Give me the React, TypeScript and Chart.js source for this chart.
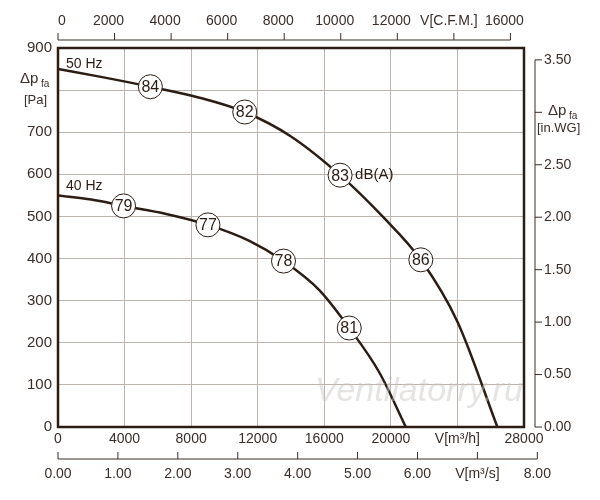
import React, { useEffect, useRef } from "react";
import { Chart, registerables } from "chart.js";
Chart.register(...registerables);

const hz50X = [0, 2500, 5550, 8500, 11220, 14000, 16950, 19500, 21800, 24000, 26400];
const hz50Y = [850, 832, 808, 782, 748, 690, 598, 500, 397, 250, 0];
const hz40X = [0, 2000, 3940, 6500, 9010, 11500, 13550, 15700, 17500, 19300, 20900];
const hz40Y = [550, 540, 525, 506, 480, 442, 394, 325, 235, 130, 0];
const labels50 = [{ x: 5550, y: 808, t: "84" }, { x: 11220, y: 748, t: "82" }, { x: 16950, y: 598, t: "83" }, { x: 21800, y: 397, t: "86" }];
const labels40 = [{ x: 3940, y: 525, t: "79" }, { x: 9010, y: 480, t: "77" }, { x: 13550, y: 394, t: "78" }, { x: 17500, y: 235, t: "81" }];
const cfmTicks = [0, 2000, 4000, 6000, 8000, 10000, 12000, 14000, 16000];
const m3sTicks = [0, 1, 2, 3, 4, 5, 6, 7, 8];
const inwgTicks = [0, 0.5, 1, 1.5, 2, 2.5, 3, 3.5];

const TXT = "#3a2e28";
const GRID = "#bdb5ad";
const LINE = "#2b1d14";
const FONT = "Arial, 'Liberation Sans', sans-serif";

const deco = {
  id: "deco",
  afterDatasetsDraw(c: any) {
    const ctx = c.ctx;
    const xs = c.scales.x, ys = c.scales.y;
    const a = c.chartArea;
    ctx.save();
    ctx.font = `italic 34px ${FONT}`;
    ctx.fillStyle = "rgba(200,195,190,0.45)";
    ctx.textAlign = "left"; ctx.textBaseline = "middle";
    ctx.fillText("Ventilatorry.ru", 315, 392);
    ctx.strokeStyle = LINE; ctx.lineWidth = 2.5;
    ctx.strokeRect(a.left, a.top, a.right - a.left, a.bottom - a.top);
    ctx.lineWidth = 1; ctx.strokeStyle = TXT; ctx.fillStyle = TXT;
    ctx.font = `14px ${FONT}`;
    const ty = 40;
    const px = (m3h: number) => xs.getPixelForValue(m3h);
    ctx.beginPath(); ctx.moveTo(a.left, ty); ctx.lineTo(px(16000 * 1.699), ty); ctx.stroke();
    ctx.textAlign = "center"; ctx.textBaseline = "bottom";
    cfmTicks.forEach((v) => {
      const p = px(v * 1.699);
      ctx.beginPath(); ctx.moveTo(p, ty); ctx.lineTo(p, ty - 7); ctx.stroke();
      if (v === 14000) return;
      ctx.fillText(String(v), v === 0 ? p + 4 : p - 6, ty - 12);
    });
    ctx.fillText("V[C.F.M.]", px(14000 * 1.699) - 5, ty - 12);
    const by = 459;
    ctx.beginPath(); ctx.moveTo(a.left, by); ctx.lineTo(px(8 * 3600), by); ctx.stroke();
    ctx.textBaseline = "top";
    m3sTicks.forEach((v) => {
      const p = px(v * 3600);
      ctx.beginPath(); ctx.moveTo(p, by); ctx.lineTo(p, by - 7); ctx.stroke();
      ctx.fillText(v === 7 ? "V[m³/s]" : v.toFixed(2), p, by + 8);
    });
    const rx = 535;
    const py = (w: number) => ys.getPixelForValue(w * 249.09);
    ctx.beginPath(); ctx.moveTo(rx, a.bottom); ctx.lineTo(rx, py(3.5)); ctx.stroke();
    ctx.textAlign = "left"; ctx.textBaseline = "middle";
    inwgTicks.forEach((v) => {
      const p = py(v);
      ctx.beginPath(); ctx.moveTo(rx, p); ctx.lineTo(rx + 7, p); ctx.stroke();
      if (v === 3) return;
      ctx.fillText(v.toFixed(2), rx + 9, p);
    });
    ctx.font = `15px ${FONT}`;
    ctx.fillText("Δp", 20, 79); ctx.font = `10px ${FONT}`; ctx.fillText("fa", 41, 84);
    ctx.font = `13px ${FONT}`; ctx.fillText("[Pa]", 24, 100);
    ctx.font = `15px ${FONT}`;
    ctx.fillText("Δp", 548, 111); ctx.font = `10px ${FONT}`; ctx.fillText("fa", 569, 116);
    ctx.font = `13px ${FONT}`; ctx.fillText("[in.WG]", 537, 128);
    ctx.font = `14px ${FONT}`; ctx.fillStyle = LINE;
    ctx.fillText("50 Hz", 66, 64);
    ctx.fillText("40 Hz", 66, 186);
    const circ = (l: any) => {
      const x = xs.getPixelForValue(l.x), y = ys.getPixelForValue(l.y);
      ctx.beginPath(); ctx.arc(x, y, 12, 0, Math.PI * 2);
      ctx.fillStyle = "#fff"; ctx.fill();
      ctx.strokeStyle = LINE; ctx.lineWidth = 1; ctx.stroke();
      ctx.fillStyle = LINE; ctx.font = `16px ${FONT}`; ctx.textAlign = "center"; ctx.textBaseline = "middle";
      ctx.fillText(l.t, x, y + 1);
    };
    labels50.forEach(circ); labels40.forEach(circ);
    const l83 = labels50[2];
    ctx.textAlign = "left"; ctx.font = `15px ${FONT}`;
    ctx.fillText("dB(A)", xs.getPixelForValue(l83.x) + 15, ys.getPixelForValue(l83.y));
    ctx.restore();
  },
};

export default function App() {
  const ref = useRef<HTMLCanvasElement>(null);
  useEffect(() => {
    const chart = new Chart(ref.current!, {
      type: "scatter",
      data: {
        datasets: [
          { data: hz50X.map((x, i) => ({ x, y: hz50Y[i] })), showLine: true, borderColor: LINE, borderWidth: 2.5, pointRadius: 0, cubicInterpolationMode: "monotone" } as any,
          { data: hz40X.map((x, i) => ({ x, y: hz40Y[i] })), showLine: true, borderColor: LINE, borderWidth: 2.5, pointRadius: 0, cubicInterpolationMode: "monotone" } as any,
        ],
      },
      options: {
        animation: false, responsive: false,
        layout: { padding: { top: 48, right: 76, left: 0, bottom: 0 } },
        plugins: { legend: { display: false }, tooltip: { enabled: false } },
        scales: {
          x: {
            type: "linear", min: 0, max: 28000,
            afterFit: (s: any) => { s.height = 73; },
            border: { display: false },
            grid: { color: GRID, drawTicks: false },
            ticks: { stepSize: 4000, padding: 4, color: TXT, font: { size: 14, family: FONT }, maxRotation: 0,
              callback: (v: any) => (v === 24000 ? "V[m³/h]" : String(v)) },
          },
          y: {
            min: 0, max: 900,
            afterFit: (s: any) => { s.width = 58; },
            border: { display: false },
            grid: { color: GRID, drawTicks: false },
            ticks: { stepSize: 100, padding: 6, color: TXT, font: { size: 15, family: FONT },
              callback: (v: any) => (v === 800 ? "" : String(v)) },
          },
        },
      },
      plugins: [deco],
    });
    return () => chart.destroy();
  }, []);
  return (
    <div style={{ position: "fixed", left: 0, top: 0, width: 600, height: 500, background: "#fff" }}>
      <canvas ref={ref} width={600} height={500} />
    </div>
  );
}
